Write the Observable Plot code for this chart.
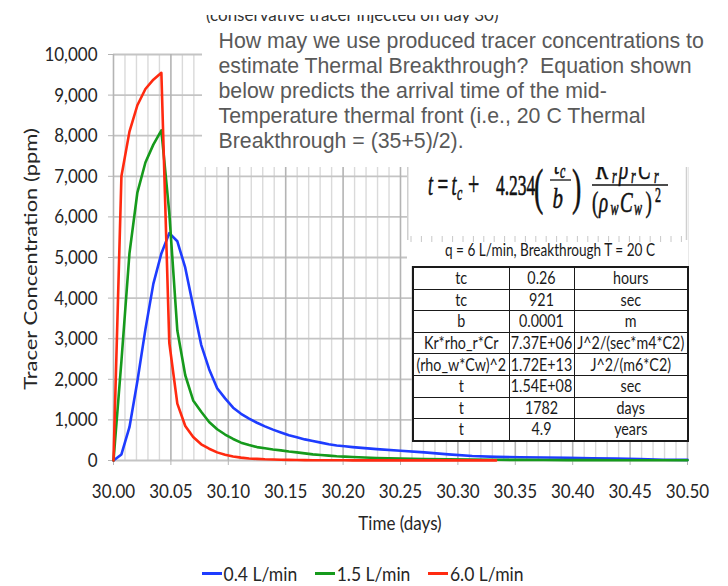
<!DOCTYPE html>
<html>
<head>
<meta charset="utf-8">
<script src="https://cdn.jsdelivr.net/npm/d3@7"></script>
<script src="https://cdn.jsdelivr.net/npm/@observablehq/plot@0.6"></script>
<style>
  body { margin: 0; background: #fff; }
  #wrap { position: relative; width: 728px; height: 586px; overflow: hidden; background: #fff;
          font-family: Lato, "Open Sans", sans-serif; color: #262626; }
  #wrap > svg.chart { position: absolute; left: 0; top: 0; }
  .abs { position: absolute; }
  #title-clip { left: 206px; top: 14.5px; width: 330px; height: 9px; overflow: hidden; }
  #title-clip div { position: absolute; top: -8.5px; left: 0; line-height: 17px; font-size: 17px;
                    white-space: nowrap; color: #333; }
  #note { left: 202px; top: 23px; width: 526px; height: 144px; background: #fff; }
  #note div { position: absolute; left: 16.5px; top: 6.2px; font-family: "Liberation Sans", Arial, sans-serif;
              font-size: 21.3px; line-height: 25px; color: #595959; white-space: pre; }
  #eq { left: 407px; top: 167px; }
  #params { left: 412px; top: 266px; width: 275px; table-layout: fixed; border-collapse: collapse;
            background: #fff; border: 2px solid #1a1a1a; }
  #params td { border: 1.5px solid #1a1a1a; padding: 0; height: 20.6px; text-align: center;
               font-size: 14.3px; line-height: 1; color: #1a1a1a; white-space: nowrap; overflow: visible; }
  #params td span { display: inline-block; transform: scaleY(1.15); }
  #ytitle { left: 30px; top: 259px; font-size: 18px; white-space: nowrap;
            transform: translate(-50%, -50%) rotate(-90deg) scaleX(1.22); }
  #xtitle { left: 400px; top: 523px; font-size: 17px; white-space: nowrap;
            transform: translate(-50%, -50%) scaleY(1.12); }
  #legend { left: 202px; top: 563px; display: flex; align-items: center; font-size: 17.5px; white-space: nowrap; }
  #legend .item { display: flex; align-items: center; margin-right: 18px; }
  #legend .item span { display: inline-block; transform: scaleY(1.12); }
  #legend .sw { width: 20px; height: 2.6px; margin-right: 1.5px; }
</style>
</head>
<body>
<div id="wrap"></div>
<script>
// Sampling times (days), 10-minute steps around the pulse, 30-minute steps in the tail
const timeDays = [
  30.0000, 30.0069, 30.0139, 30.0208, 30.0278, 30.0347, 30.0417, 30.0486, 30.0556, 30.0625,
  30.0694, 30.0764, 30.0833, 30.0903, 30.0972, 30.1042, 30.1111, 30.1181, 30.1250, 30.1319,
  30.1389, 30.1458, 30.1528, 30.1597, 30.1667, 30.1736, 30.1806, 30.1875, 30.1944, 30.2014,
  30.2083, 30.2292, 30.2500, 30.2708, 30.2917, 30.3125, 30.3333, 30.3542, 30.3750, 30.3958,
  30.4167, 30.4375, 30.4583, 30.4792, 30.5000
];
// Tracer concentration (ppm) at the production well for each injection rate
const conc04 = [
  0, 150, 820, 1950, 3230, 4350, 5100, 5600, 5400, 4750,
  3800, 2850, 2250, 1780, 1530, 1300, 1150, 1030, 930, 840,
  760, 690, 620, 570, 520, 480, 440, 400, 370, 350,
  330, 280, 240, 200, 150, 110, 90, 80, 75, 68,
  55, 45, 35, 20, 15
];
const conc15 = [
  0, 2450, 5100, 6600, 7340, 7780, 8130, 6100, 3200, 2100,
  1480, 1200, 950, 770, 640, 530, 440, 380, 330, 300,
  270, 250, 220, 200, 175, 150, 135, 120, 105, 95,
  85, 60, 45, 35, 28, 22, 18, 15, 12, 10,
  9, 8, 7, 6, 5
];
const conc60 = [
  0, 7000, 8100, 8750, 9150, 9380, 9550, 2900, 1400, 850,
  580, 400, 290, 200, 140, 100, 70, 50, 40, 30,
  25, 20, 15, 12, 10, 8, 7, 6, 5, 5,
  4, 3, 3, 2, 2, 2, 2, null, null, null,
  null, null, null, null, null
];
const seriesNames = ["0.4 L/min", "1.5 L/min", "6.0 L/min"];
const seriesColors = ["#1e3cff", "#169a1c", "#ff2a10"];

const yTicks = [0, 1000, 2000, 3000, 4000, 5000, 6000, 7000, 8000, 9000, 10000];
const xTicks = [30.00, 30.05, 30.10, 30.15, 30.20, 30.25, 30.30, 30.35, 30.40, 30.45, 30.50];

const chartTitle = "(conservative tracer injected on day 30)";
const noteLines = [
  "How may we use produced tracer concentrations to",
  "estimate Thermal Breakthrough?  Equation shown",
  "below predicts the arrival time of the mid-",
  "Temperature thermal front (i.e., 20 C Thermal",
  "Breakthrough = (35+5)/2)."
];
const tableHeader = "q = 6 L/min, Breakthrough T = 20 C";
const paramNames = ["tc", "tc", "b", "Kr*rho_r*Cr", "(rho_w*Cw)^2", "t", "t", "t"];
const paramValues = ["0.26", "921", "0.0001", "7.37E+06", "1.72E+13", "1.54E+08", "1782", "4.9"];
const paramUnits = ["hours", "sec", "m", "J^2/(sec*m4*C2)", "J^2/(m6*C2)", "sec", "days", "years"];

// minor vertical grid every 0.01 day
const xMinor = d3.range(1, 50).filter(i => i % 5 !== 0).map(i => 30 + i / 100);

const rowsFor = (vals, name) => timeDays
  .map((t, i) => ({t, c: vals[i], s: name}))
  .filter(d => d.c != null);
const series = [conc04, conc15, conc60].map((v, i) => rowsFor(v, seriesNames[i]));

const chart = Plot.plot({
  width: 728,
  height: 540,
  marginLeft: 113,
  marginRight: 41,
  marginTop: 54,
  marginBottom: 80,
  style: {fontFamily: "Lato, sans-serif", fontSize: "17px", color: "#262626", background: "transparent"},
  x: {domain: [30, 30.5]},
  y: {domain: [0, 10000]},
  color: {domain: seriesNames, range: seriesColors},
  marks: [
    Plot.ruleX(xMinor, {stroke: "#dadada", strokeWidth: 1.4}),
    Plot.ruleY(yTicks, {stroke: "#c4c4c4", strokeWidth: 1.8}),
    Plot.ruleX(xTicks, {stroke: "#b4b4b4", strokeWidth: 1.6}),
    Plot.axisY({ticks: yTicks, tickFormat: d3.format(","), tickSize: 5, tickPadding: 11,
                stroke: "#b4b4b4", color: "#262626", label: null}),
    Plot.axisX({ticks: xTicks, tickFormat: d3.format(".2f"), tickSize: 5, tickPadding: 18,
                stroke: "#b4b4b4", color: "#262626", label: null}),
    ...series.map(rows => Plot.line(rows, {x: "t", y: "c", stroke: "s", strokeWidth: 2.6,
                                           strokeLinejoin: "round", curve: "linear"}))
  ]
});
chart.classList.add("chart");
// taller tick-label glyphs, scaled about each label's anchor
d3.select(chart).selectAll('g[aria-label$="tick label"] text').each(function() {
  const tr = this.getAttribute("transform");
  if (tr) this.setAttribute("transform", tr + " scale(1,1.18)");
});

const wrap = d3.select("#wrap");
wrap.node().appendChild(chart);

// chart title, cropped by the note panel above it
wrap.append("div").attr("id", "title-clip").attr("class", "abs")
  .append("div").text(chartTitle);

// explanatory note
wrap.append("div").attr("id", "note").attr("class", "abs")
  .append("div").text(noteLines.join("\n"));

// equation panel with the table heading
const eq = wrap.append("svg").attr("id", "eq").attr("class", "abs")
  .attr("width", 281).attr("height", 99);
eq.append("rect").attr("width", 281).attr("height", 99).attr("fill", "#fff");
eq.append("line").attr("x1", 0.75).attr("x2", 0.75).attr("y1", 0).attr("y2", 73)
  .attr("stroke", "#cfcfcf").attr("stroke-width", 1.5);
eq.append("line").attr("x1", 279.5).attr("x2", 279.5).attr("y1", 0).attr("y2", 73)
  .attr("stroke", "#cfcfcf").attr("stroke-width", 1.5);
eq.append("g").selectAll("line").data(d3.range(4, 280, 10.4)).join("line")
  .attr("x1", d => d).attr("x2", d => d).attr("y1", 69).attr("y2", 75)
  .attr("stroke", "#c8c8c8").attr("stroke-width", 1);

const eqText = (x, y, str, {size = 18, italic = true, sy = 1.7} = {}) =>
  eq.append("text")
    .attr("transform", `translate(${x},${y}) scale(1,${sy})`)
    .attr("font-family", "'Liberation Serif', 'DejaVu Serif', serif")
    .attr("font-size", size)
    .attr("font-style", italic ? "italic" : "normal")
    .attr("fill", "#111")
    .attr("stroke", "#111")
    .attr("stroke-width", 0.35)
    .text(str);
eqText(21, 28, "t");
eqText(30.5, 28, "=", {italic: false, size: 19});
eqText(44.5, 28, "t");
eqText(50, 32.5, "c", {size: 12});
eqText(61, 28, "+", {italic: false, size: 20});
eqText(89, 28, "4.234", {italic: false, size: 17.5});
eqText(127, 37, "(", {size: 28, italic: false, sy: 1.8});
eqText(165, 37, ")", {size: 28, italic: false, sy: 1.8});
eqText(147, 7, "t", {size: 19});
eqText(153, 11, "c", {size: 12});
eqText(145.5, 41, "b", {size: 21, sy: 1.45});
eq.append("line").attr("x1", 143).attr("x2", 164).attr("y1", 13).attr("y2", 13)
  .attr("stroke", "#111").attr("stroke-width", 1.3);
// K_r rho_r C_r over (rho_w C_w)^2
eqText(189, 12, "K", {size: 19});
eqText(205, 15.5, "r", {size: 12});
eqText(212, 12, "ρ", {size: 19});
eqText(224, 15.5, "r", {size: 12});
eqText(231, 12, "C", {size: 19});
eqText(247, 15.5, "r", {size: 12});
eq.append("line").attr("x1", 185).attr("x2", 261).attr("y1", 18).attr("y2", 18)
  .attr("stroke", "#111").attr("stroke-width", 1.3);
eqText(185, 44.5, "(", {italic: false, size: 19, sy: 1.6});
eqText(192, 44.5, "ρ", {size: 19, sy: 1.6});
eqText(203.5, 48, "w", {size: 12});
eqText(213, 44.5, "C", {size: 19, sy: 1.6});
eqText(227, 48, "w", {size: 12});
eqText(238.5, 44.5, ")", {italic: false, size: 19, sy: 1.6});
eqText(248, 35, "2", {size: 12, italic: false});

eq.append("text")
  .attr("transform", "translate(143,89) scale(1,1.15)")
  .attr("text-anchor", "middle")
  .attr("font-family", "Lato, sans-serif")
  .attr("font-size", 14.5)
  .attr("fill", "#1a1a1a")
  .attr("textLength", 210).attr("lengthAdjust", "spacingAndGlyphs")
  .text(tableHeader);

// parameter table
const table = wrap.append("table").attr("id", "params").attr("class", "abs");
table.append("colgroup").selectAll("col").data([96, 65, 114]).join("col").style("width", d => d + "px");
const tr = table.selectAll("tr").data(paramNames.map((n, i) => [n, paramValues[i], paramUnits[i]]))
  .join("tr");
tr.selectAll("td").data(d => d).join("td").append("span").text(d => d);

// axis titles
wrap.append("div").attr("id", "ytitle").attr("class", "abs").text("Tracer Concentration (ppm)");
wrap.append("div").attr("id", "xtitle").attr("class", "abs").text("Time (days)");

// legend
const legend = wrap.append("div").attr("id", "legend").attr("class", "abs");
const item = legend.selectAll(".item").data(seriesNames).join("div").attr("class", "item");
item.append("div").attr("class", "sw").style("background", (d, i) => seriesColors[i]);
item.append("span").text(d => d);
</script>
</body>
</html>
